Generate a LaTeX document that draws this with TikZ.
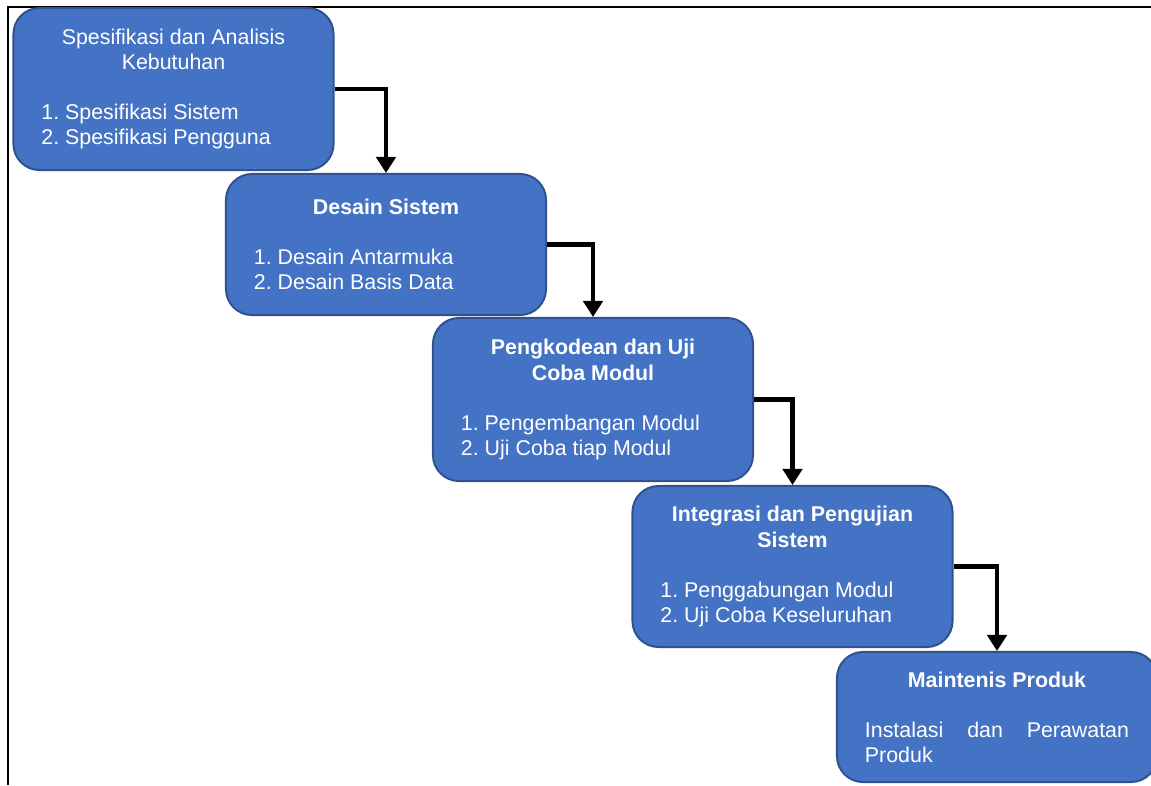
\documentclass[tikz,border=0pt]{standalone}
\usepackage{fontspec}
\setmainfont{Liberation Sans}
\usetikzlibrary{arrows.meta}
\definecolor{boxblue}{HTML}{4472C4}
\definecolor{boxedge}{HTML}{2F528F}
\newcommand{\ttl}[1]{\frenchspacing\hyphenpenalty=10000 \tolerance=10000 {\centering #1\par}\vspace{\baselineskip}}
\begin{document}
\begin{tikzpicture}[x=0.025cm,y=-0.025cm,
    box/.style={draw=boxedge,line width=0.05cm,fill=boxblue,rounded corners=0.65cm,
        text=white,text width=6.6cm,align=justify,inner sep=0pt,minimum width=8cm,
        font=\fontsize{15.2}{17.8}\selectfont},
    flow/.style={line width=0.11cm,-{Triangle[width=0.48cm,length=0.4cm]}}]
                \useasboundingbox (0,0) rectangle (1151,785);
                \draw[line width=0.05cm] (1151,6.5) -- (8,6.5) -- (8,785);
                \node[box,minimum height=4.05cm] (A) at (173.5,89) {\ttl{Spesifikasi dan Analisis\\Kebutuhan}1. Spesifikasi Sistem\\2. Spesifikasi Pengguna};
                \node[box,minimum height=3.525cm] (B) at (386,244.5) {\ttl{\bfseries Desain Sistem}1. Desain Antarmuka\\2. Desain Basis Data};
                \node[box,minimum height=4.075cm] (C) at (593,399.5) {\ttl{\bfseries Pengkodean dan Uji\\Coba Modul}1. Pengembangan Modul\\2. Uji Coba tiap Modul};
                \node[box,minimum height=4.025cm] (D) at (792.5,566.5) {\ttl{\bfseries Integrasi dan Pengujian\\Sistem}1. Penggabungan Modul\\2. Uji Coba Keseluruhan};
                \node[box,minimum height=3.25cm] (E) at (997,717) {\ttl{\bfseries Maintenis Produk}Instalasi dan Perawatan Produk};
                \draw[flow] (A.east) -| (B.north);
                \draw[flow] (B.east) -| (C.north);
                \draw[flow] (C.east) -| (D.north);
                \draw[flow] (D.east) -| (E.north);
            \end{tikzpicture}
\end{document}
